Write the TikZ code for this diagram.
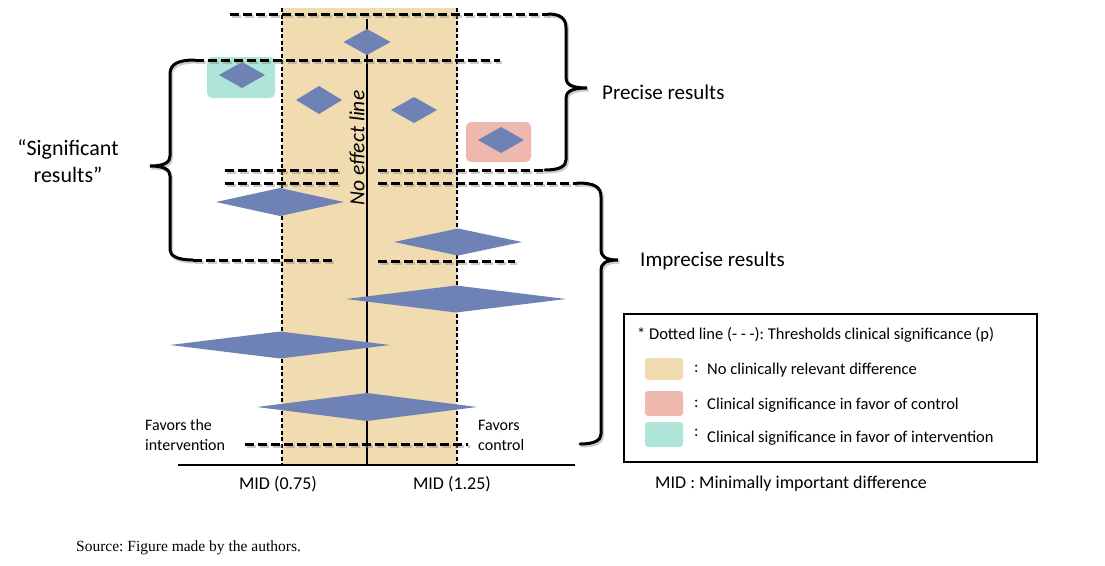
\documentclass[tikz,border=0pt]{standalone}
\usepackage{fontspec}
\setmainfont{Carlito}
\newfontfamily\srcfont{Liberation Serif}
\frenchspacing
\definecolor{bandcol}{HTML}{F0DCB0}
\definecolor{diacol}{HTML}{6F82B5}
\definecolor{tealbox}{HTML}{AEE5D8}
\definecolor{pinkbox}{HTML}{EEB8AE}
\newcommand\diam[4]{\fill[diacol] (#1-#3,#2) -- (#1,#2-#4) -- (#1+#3,#2) -- (#1,#2+#4) -- cycle;}
\newcommand\thickstuff[1]{%
  \draw[thickdash,#1] (230,14) -- (548,14);
  \draw[thickdash,#1] (195,60) -- (500,60);
  \draw[thickdash,#1] (225,170) -- (340,170);
  \draw[thickdash,#1] (378,170) -- (545,170);
  \draw[thickdash,#1] (225,183) -- (340,183);
  \draw[thickdash,#1] (378,183) -- (577,183);
  \draw[thickdash,#1] (193,260) -- (335,260);
  \draw[thickdash,#1] (378,261) -- (515,261);
  \draw[thickdash,#1] (245,444) -- (468,444);
  \draw[bracestyle,#1] (548,14) .. controls (560,14) and (566,18) .. (566,28) -- (566,78) .. controls (566,84) and (571,88) .. (587,88) .. controls (571,88) and (566,92) .. (566,98) -- (566,160) .. controls (566,166) and (560,170) .. (545,170);
  \draw[bracestyle,#1] (195,60) .. controls (178,60) and (170,64) .. (170,74) -- (170,156) .. controls (170,162) and (165,166) .. (150,166) .. controls (165,166) and (170,170) .. (170,176) -- (170,250) .. controls (170,256) and (178,260) .. (193,260);
  \draw[bracestyle,#1] (577,183) .. controls (595,183) and (601,187) .. (601,197) -- (601,250) .. controls (601,256) and (605,260) .. (618,260) .. controls (605,260) and (601,264) .. (601,270) -- (601,434) .. controls (601,440) and (595,444) .. (580,444);
}
\begin{document}
\begin{tikzpicture}[x=1pt,y=-1pt,
  thickdash/.style={line width=3pt, dash pattern=on 9pt off 4pt},
  bracestyle/.style={line width=3pt, line cap=round},
  thindash/.style={line width=1.1pt, dash pattern=on 4pt off 2.5pt},
  shadowcol/.style={draw=black!45, opacity=0.45},
  lbl/.style={inner sep=0pt, font=\fontsize{16}{20}\selectfont, align=left},
  big/.style={inner sep=0pt, font=\fontsize{21}{25}\selectfont},
  leg/.style={inner sep=0pt, font=\fontsize{16.5}{19}\selectfont, anchor=west},
  swatch/.style={rounded corners=3pt}]
\useasboundingbox (0,0) rectangle (1105,565);
% band
\fill[bandcol] (282,8) rectangle (457,465);
\draw[thindash] (282,8) -- (282,465);
\draw[thindash] (457,8) -- (457,465);
\draw[line width=1.3pt] (367,19) -- (367,465);
\draw[line width=1.2pt] (178,465) -- (575,465);
% coloured boxes
\fill[tealbox, rounded corners=5pt] (207,57) rectangle (275,98);
\fill[pinkbox, rounded corners=5pt] (466,122) rectangle (531,162);
% diamonds
\diam{367}{42}{23.5}{13}
\diam{242}{75}{23}{13}
\diam{319}{100}{23}{14}
\diam{414}{110}{23}{13}
\diam{501}{140}{23}{13}
\diam{280}{202}{64}{14}
\diam{458}{242}{64}{13.5}
\diam{456}{299}{110}{13.5}
\diam{280}{345}{110}{13.5}
\diam{367}{407}{110}{14}
% thick dashes and braces with shadow
\begin{scope}[shift={(1.5,2)}]
\thickstuff{shadowcol}
\end{scope}
\thickstuff{black}
% texts
\node[big, rotate=90, font=\fontsize{21.5}{25}\selectfont\itshape] (noeff) at (357,148) {No effect line};
\node[big, anchor=west] (precise) at (602,92) {Precise results};
\node[big, anchor=west] (imprecise) at (640,261) {Imprecise results};
\node[big, align=center, font=\fontsize{22}{27}\selectfont] (signif) at (68,161) {“Significant\\results”};
\node[lbl, anchor=west] (favint) at (145,435) {Favors the\\intervention};
\node[lbl, anchor=west] (favctl) at (478,435) {Favors\\control};
\node[inner sep=0pt, font=\fontsize{18}{21}\selectfont] (mid1) at (278,484) {MID (0.75)};
\node[inner sep=0pt, font=\fontsize{18}{21}\selectfont] (mid2) at (452,484) {MID (1.25)};
\node[inner sep=0pt, anchor=west, font=\fontsize{18}{21}\selectfont] (midexp) at (655,484) {MID : Minimally important difference};
% legend
\draw[line width=2pt] (624,314) rectangle (1037,462);
\node[leg] (legtitle) at (637,335) {* Dotted line (- - -): Thresholds clinical significance (p)};
\fill[bandcol, swatch] (645,358) rectangle (683,380);
\fill[pinkbox, swatch] (645,391) rectangle (683,416);
\fill[tealbox, swatch] (645,422) rectangle (683,447);
\node[leg] (c1) at (694,369) {:};
\node[leg] (c2) at (694,404) {:};
\node[leg] (c3) at (694,433) {:};
\node[leg] (l1) at (707,370) {No clinically relevant difference};
\node[leg] (l2) at (707,405) {Clinical significance in favor of control};
\node[leg] (l3) at (707,438) {Clinical significance in favor of intervention};
% source
\node[inner sep=0pt, anchor=west, font=\srcfont\fontsize{15.5}{18}\selectfont] (src) at (76,548) {Source: Figure made by the authors.};
\end{tikzpicture}
\end{document}
